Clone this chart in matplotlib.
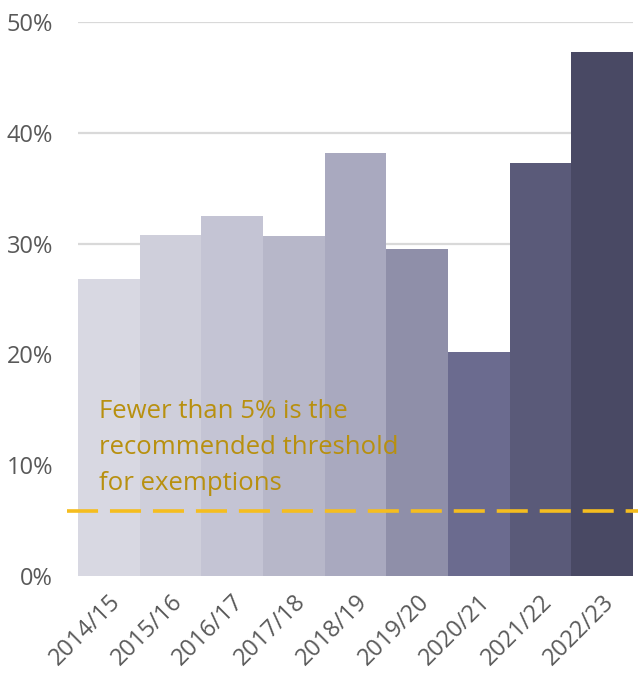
import matplotlib.pyplot as plt

plt.rcParams['font.family'] = ['Open Sans', 'DejaVu Sans']

# Data
years = ['2014/15', '2015/16', '2016/17', '2017/18', '2018/19',
         '2019/20', '2020/21', '2021/22', '2022/23']
values = [26.8, 30.8, 32.5, 30.7, 38.2, 29.5, 20.2, 37.3, 47.3]
colors = ['#d8d8e2', '#cfcfdb', '#c4c4d4', '#b7b7c9', '#a9a9bf',
          '#8f8fa9', '#6b6b8f', '#5a5a79', '#494964']
threshold = 5.9
yticks = [0, 10, 20, 30, 40, 50]

fig = plt.figure(figsize=(6.38, 6.79), dpi=100)
ax = fig.add_axes([0.1223, 0.1517, 0.8697, 0.8159])

x = range(len(years))
ax.bar(x, values, width=1.0, color=colors, zorder=2)

# threshold line runs a little past the plot area on both sides
ax.axhline(threshold, xmin=-0.02, xmax=1.02, color='#f5bd1f', lw=2.6,
           linestyle=(0, (8.6, 3.3)), zorder=3, clip_on=False)
ax.text(-0.16, 16.0, 'Fewer than 5% is the\nrecommended threshold\nfor exemptions',
        color='#b8900f', fontsize=18.5, va='top', ha='left',
        linespacing=1.58, zorder=4)

ax.set_xlim(-0.5, len(years) - 0.5)
ax.set_ylim(0, 50)
ax.set_yticks(yticks)
ax.set_yticklabels([f'{t}%' for t in yticks])
ax.set_xticks(list(x))
ax.set_xticklabels(years, rotation=45, ha='right', rotation_mode='anchor')

ax.grid(axis='y', color='#d9d9d9', lw=1.6, zorder=0)
for s in ax.spines.values():
    s.set_visible(False)
ax.tick_params(axis='both', length=0, labelsize=17, labelcolor='#595959')
ax.tick_params(axis='y', pad=18)
ax.tick_params(axis='x', pad=10)

fig.savefig('out.png', dpi=100)
